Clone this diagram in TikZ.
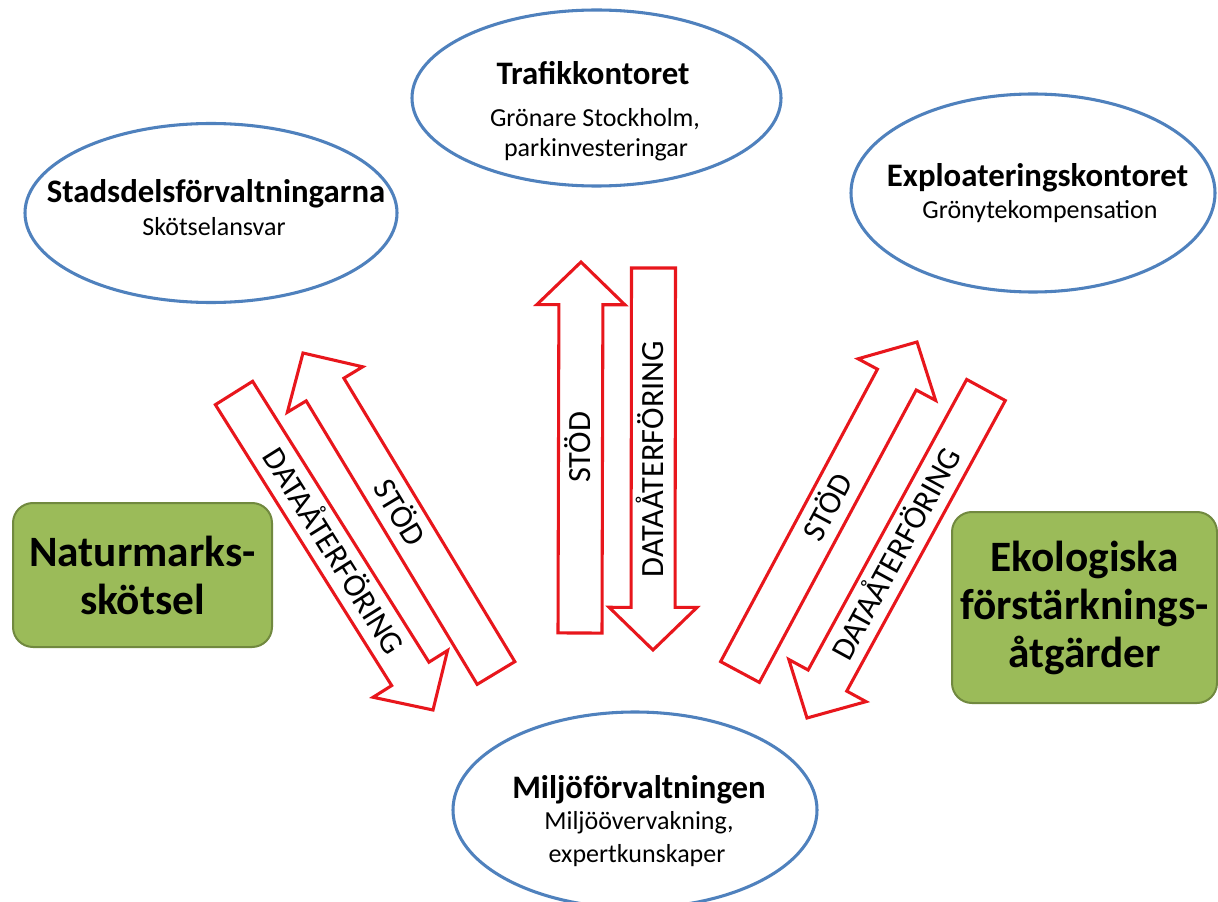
\documentclass[tikz,border=0pt]{standalone}
\usepackage{fontspec}
\setmainfont{Carlito}
\usetikzlibrary{calc,shapes.geometric}
\definecolor{ellblue}{HTML}{4F81BD}
\definecolor{boxgreen}{HTML}{9BBB59}
\definecolor{boxedge}{HTML}{71893F}
\definecolor{arrred}{RGB}{232,22,28}
\newcommand{\redblockarrow}[3]{%
  \coordinate (#1T) at #2;
  \coordinate (#1P) at #3;
  \coordinate (#1H) at ($(#1P)!32pt!(#1T)$);
  \draw[arrowline] ($(#1T)!16.5pt!90:(#1P)$) -- ($(#1H)!16.5pt!90:(#1P)$) -- ($(#1H)!33pt!90:(#1P)$) -- (#1P) -- ($(#1H)!33pt!-90:(#1P)$) -- ($(#1H)!16.5pt!-90:(#1P)$) -- ($(#1T)!16.5pt!-90:(#1P)$) -- cycle;
}
\begin{document}
\begin{tikzpicture}[x=0.75pt,y=-0.75pt,
  ell/.style={ellipse, draw=ellblue, line width=2.3pt, fill=white, inner sep=0pt},
  title/.style={font=\fontsize{24.6}{28}\selectfont\bfseries, anchor=base, inner sep=0pt},
  sub/.style={font=\fontsize{19.5}{23}\selectfont, anchor=base, inner sep=0pt},
  greenbox/.style={rectangle, rounded corners=15pt, draw=boxedge, line width=1.5pt, fill=boxgreen, align=center, font=\fontsize{32.5}{36}\selectfont\bfseries, inner sep=2pt},
  arrowline/.style={draw=arrred, line width=2.3pt, fill=white, line join=miter},
  arrtext/.style={font=\fontsize{24.3}{28}\selectfont, inner sep=0pt, text height=15.5pt, text depth=0pt}]
\useasboundingbox (0,0) rectangle (1218,902);
\fill[white] (0,0) rectangle (1218,902);

% ellipses
\node[ell, minimum width=276.75pt, minimum height=132pt] (traf) at (596.5,98) {};
\node[ell, minimum width=279pt, minimum height=134.25pt] (stad) at (211,213) {};
\node[ell, minimum width=273pt, minimum height=148.5pt] (expl) at (1033,193) {};
\node[ell, minimum width=273pt, minimum height=147pt] (milj) at (635,810) {};

% ellipse texts
\node[title] (trafT) at (593,85) {Trafikkontoret};
\node[sub] (trafS1) at (595,127) {Grönare Stockholm,};
\node[sub] (trafS2) at (596,157) {parkinvesteringar};
\node[title] (stadT) at (216,203) {Stadsdelsförvaltningarna};
\node[sub] (stadS) at (214,236) {Skötselansvar};
\node[title] (explT) at (1037.5,187) {Exploateringskontoret};
\node[sub] (explS) at (1040,219) {Grönytekompensation};
\node[title] (miljT) at (639,798) {Miljöförvaltningen};
\node[sub] (miljS1) at (639,829) {Miljöövervakning,};
\node[sub] (miljS2) at (637,862) {expertkunskaper};

% block arrows
\redblockarrow{cs}{(580,633)}{(581,262)}
\redblockarrow{cd}{(653.5,268)}{(653,650)}
\redblockarrow{ls}{(496,673)}{(303,353)}
\redblockarrow{ld}{(234,393)}{(433,710)}
\redblockarrow{rs}{(740,672)}{(917,342)}
\redblockarrow{rd}{(986,390)}{(807,718)}

\node[arrtext, rotate=90] (csl) at ($(csT)!0.5!(csP)$) {STÖD};
\node[arrtext, rotate=90] (cdl) at ($(cdT)!0.5!(cdP)$) {DATAÅTERFÖRING};
\node[arrtext, rotate=-58.9] (lsl) at ($(lsT)!0.5!(lsP)$) {STÖD};
\node[arrtext, rotate=-57.9] (ldl) at ($(ldT)!0.5!(ldP)$) {DATAÅTERFÖRING};
\node[arrtext, rotate=61.8] (rsl) at ($(rsT)!0.5!(rsP)$) {STÖD};
\node[arrtext, rotate=61.4] (rdl) at ($(rdT)!0.5!(rdP)$) {DATAÅTERFÖRING};

% green boxes
\node[greenbox, minimum width=194.25pt, minimum height=108pt] (natur) at (142.5,575) {Naturmarks-\\skötsel};
\node[greenbox, minimum width=198.75pt, minimum height=143.25pt] (eko) at (1084.5,607.5) {Ekologiska\\förstärknings-\\åtgärder};
\end{tikzpicture}
\end{document}
